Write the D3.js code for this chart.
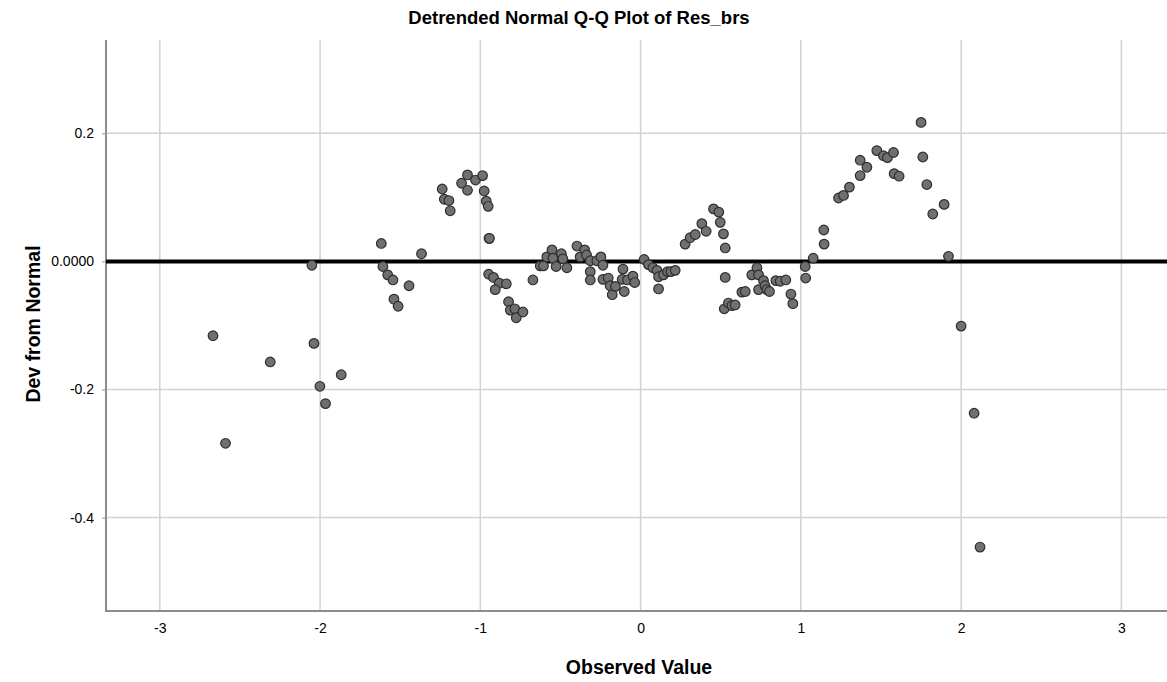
<!DOCTYPE html>
<html>
<head>
<meta charset="utf-8">
<script src="https://cdn.jsdelivr.net/npm/d3@7"></script>
<style>
  html, body { margin: 0; padding: 0; background: #fff; }
  svg { display: block; }
  text { font-family: "Liberation Sans", Arial, sans-serif; fill: #000; }
</style>
</head>
<body>
<svg id="chart" width="1167" height="682"></svg>
<script>
// Observed values (standardised residuals) for each case
const observed = [
  -2.668, -2.590, -2.311, -2.051, -2.038, -2.001, -1.966, -1.868,
  -1.618, -1.608, -1.578, -1.545, -1.539, -1.513, -1.445, -1.367,
  -1.238, -1.225, -1.196, -1.188, -1.117, -1.080, -1.080, -1.030,
  -0.986, -0.976, -0.963, -0.951, -0.946, -0.943, -0.948, -0.918,
  -0.882, -0.907, -0.838, -0.824, -0.813, -0.785, -0.776, -0.734,
  -0.672, -0.626, -0.606, -0.585, -0.553, -0.547, -0.527, -0.494,
  -0.485, -0.460, -0.397, -0.377, -0.349, -0.337, -0.314, -0.314,
  -0.314, -0.273, -0.248, -0.235, -0.235, -0.202, -0.190, -0.177,
  -0.157, -0.110, -0.115, -0.102, -0.082, -0.048, -0.037,
   0.022,  0.049,  0.077,  0.102,  0.112,  0.112,  0.143,  0.168,
   0.189,  0.216,  0.278,  0.309,  0.341,  0.382,  0.409,  0.455,
   0.488,  0.497,  0.517,  0.528,  0.528,  0.522,  0.548,  0.570,
   0.590,  0.632,  0.653,  0.694,  0.726,  0.736,  0.736,  0.767,
   0.777,  0.788,  0.804,  0.844,  0.871,  0.906,  0.938,  0.950,
   1.027,  1.030,  1.077,  1.143,  1.145,  1.235,  1.266,  1.303,
   1.370,  1.370,  1.412,  1.474,  1.515,  1.540,  1.578,  1.582,
   1.613,  1.750,  1.761,  1.786,  1.823,  1.894,  1.921,  2.000,
   2.081,  2.118
];

// Deviation of each case from the expected normal quantile
const deviation = [
  -0.116, -0.284, -0.157, -0.006, -0.128, -0.195, -0.222, -0.177,
   0.028, -0.008, -0.021, -0.029, -0.059, -0.070, -0.038,  0.012,
   0.113,  0.097,  0.095,  0.079,  0.122,  0.135,  0.111,  0.127,
   0.134,  0.110,  0.094,  0.086,  0.036,  0.036, -0.020, -0.025,
  -0.034, -0.044, -0.035, -0.063, -0.076, -0.074, -0.088, -0.079,
  -0.029, -0.007, -0.007,  0.007,  0.018,  0.005, -0.008,  0.012,
   0.004, -0.010,  0.024,  0.007,  0.018,  0.010,  0.001, -0.016,
  -0.029,  0.001,  0.007, -0.006, -0.028, -0.026, -0.038, -0.052,
  -0.039, -0.012, -0.028, -0.047, -0.029, -0.023, -0.033,
   0.003, -0.005, -0.010, -0.014, -0.024, -0.043, -0.021, -0.016,
  -0.016, -0.014,  0.027,  0.037,  0.042,  0.059,  0.047,  0.082,
   0.077,  0.061,  0.043,  0.021, -0.025, -0.074, -0.065, -0.069,
  -0.068, -0.048, -0.047, -0.021, -0.010, -0.021, -0.044, -0.030,
  -0.038, -0.044, -0.047, -0.030, -0.031, -0.029, -0.051, -0.066,
  -0.008, -0.026,  0.005,  0.049,  0.027,  0.099,  0.103,  0.116,
   0.134,  0.158,  0.147,  0.173,  0.165,  0.162,  0.170,  0.137,
   0.133,  0.217,  0.163,  0.120,  0.074,  0.089,  0.008, -0.101,
  -0.237, -0.446
];

const xTicks = [-3, -2, -1, 0, 1, 2, 3];
const yTicks = [-0.4, -0.2, 0, 0.2];

const points = observed.map((v, i) => ({ x: v, y: deviation[i] }));

const svg = d3.select("#chart");

// plot frame
const frame = { left: 106, right: 1167, top: 40, bottom: 611 };

const x = d3.scaleLinear().domain([-3, 3]).range([159.8, 1121.4]);
const y = d3.scaleLinear().domain([-0.4, 0.2]).range([517.6, 133.3]);

// plain hyphen for negative tick labels
const hyphen = s => s.replace("\u2212", "-");

// grid lines
const grid = svg.append("g").attr("class", "grid");
grid.selectAll("line.v").data(xTicks).join("line")
  .attr("class", "v")
  .attr("x1", d => x(d)).attr("x2", d => x(d))
  .attr("y1", frame.top).attr("y2", frame.bottom)
  .attr("stroke", "#d2d2d2").attr("stroke-width", 1.5);
grid.selectAll("line.h").data(yTicks.filter(d => d !== 0)).join("line")
  .attr("class", "h")
  .attr("x1", frame.left).attr("x2", frame.right)
  .attr("y1", d => y(d)).attr("y2", d => y(d))
  .attr("stroke", "#d2d2d2").attr("stroke-width", 1.5);

// y axis
const yAxis = d3.axisLeft(y)
  .tickValues(yTicks)
  .tickSize(4)
  .tickPadding(8)
  .tickFormat(d => d === 0 ? "0.0000" : hyphen(d3.format(".1f")(d)));
const gy = svg.append("g").attr("transform", `translate(${frame.left},0)`).call(yAxis);
gy.select(".domain").remove();
gy.selectAll(".tick line").attr("stroke", "#999");
gy.selectAll(".tick text")
  .style("font-family", "'Liberation Sans', Arial, sans-serif")
  .style("font-size", "14px").attr("fill", "#222");

// x axis
const xAxis = d3.axisBottom(x)
  .tickValues(xTicks)
  .tickSize(0)
  .tickPadding(12)
  .tickFormat(d => hyphen(d3.format("d")(d)));
const gx = svg.append("g").attr("transform", `translate(0,${frame.bottom})`).call(xAxis);
gx.select(".domain").remove();
gx.selectAll(".tick text")
  .style("font-family", "'Liberation Sans', Arial, sans-serif")
  .style("font-size", "14px").attr("fill", "#222");

// axis lines
svg.append("line")
  .attr("x1", frame.left).attr("x2", frame.left).attr("y1", frame.top).attr("y2", frame.bottom)
  .attr("stroke", "#8c8c8c").attr("stroke-width", 2);
svg.append("line")
  .attr("x1", frame.left - 1).attr("x2", frame.right).attr("y1", frame.bottom).attr("y2", frame.bottom)
  .attr("stroke", "#8c8c8c").attr("stroke-width", 2);

// reference line at zero deviation
svg.append("line")
  .attr("x1", frame.left).attr("x2", frame.right)
  .attr("y1", y(0)).attr("y2", y(0))
  .attr("stroke", "#000").attr("stroke-width", 4);

// cases
svg.append("g").selectAll("circle").data(points).join("circle")
  .attr("cx", d => x(d.x))
  .attr("cy", d => y(d.y))
  .attr("r", 4.8)
  .attr("fill", "#707070")
  .attr("stroke", "#2e2e2e")
  .attr("stroke-width", 1.2);

// titles
svg.append("text")
  .attr("x", 579).attr("y", 24)
  .attr("text-anchor", "middle")
  .style("font-size", "18.5px").style("font-weight", "bold")
  .text("Detrended Normal Q-Q Plot of Res_brs");

svg.append("text")
  .attr("x", 639).attr("y", 674)
  .attr("text-anchor", "middle")
  .style("font-size", "19.5px").style("font-weight", "bold")
  .text("Observed Value");

svg.append("text")
  .attr("transform", "translate(40,324) rotate(-90)")
  .attr("text-anchor", "middle")
  .style("font-size", "19.5px").style("font-weight", "bold")
  .text("Dev from Normal");
</script>
</body>
</html>
